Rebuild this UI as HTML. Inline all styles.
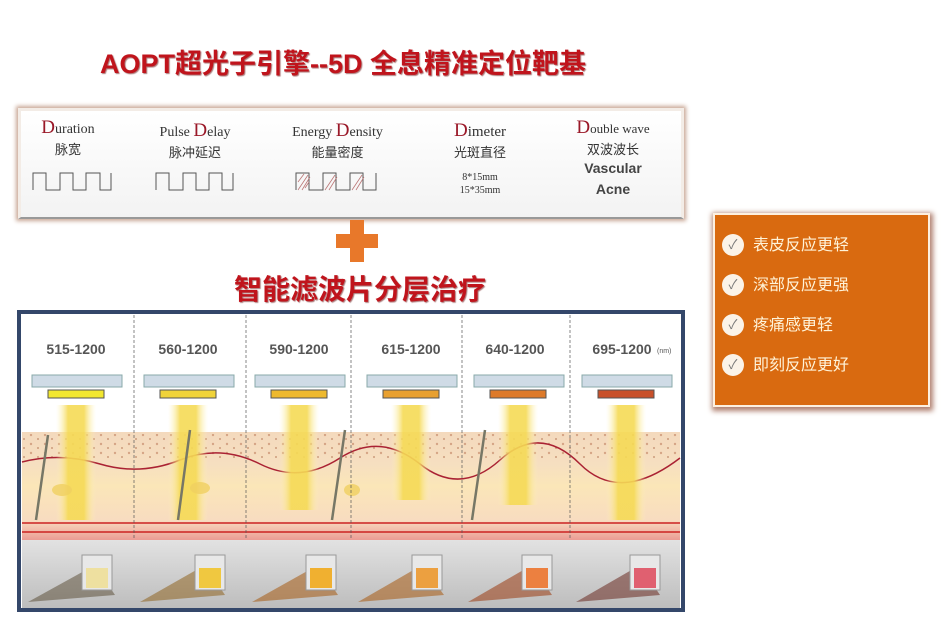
<!DOCTYPE html>
<html><head><meta charset="utf-8"><style>
body{margin:0;width:950px;height:641px;background:#fff;position:relative;overflow:hidden;font-family:"Liberation Sans","Noto Sans CJK SC",sans-serif}
.a{position:absolute}
.t{color:#c0141c;font-weight:bold;text-shadow:1px 1px 1px #a77}
.c{position:absolute;text-align:center;font-family:"Liberation Serif","Noto Serif CJK SC",serif;color:#333}
.c b{color:#9a1828;font-weight:normal;font-size:19px}
.zh{font-family:"Liberation Sans","Noto Sans CJK SC",sans-serif;font-size:13px;color:#333}
.ck{position:absolute;left:722px;width:22px;height:22px;border-radius:50%;background:#fbf3e8;color:#777;font-size:13px;text-align:center;line-height:22px}
.it{position:absolute;left:753px;color:#fff3d8;font-size:16px}
</style></head><body>
<div class="a t" style="left:70px;top:42px;width:546px;text-align:center;font-size:27px;white-space:nowrap">AOPT超光子引擎--5D 全息精准定位靶基</div>
<div class="a" style="left:18px;top:108px;width:660px;height:106px;border:3px solid #f3ece6;box-shadow:0 0 4px 2px #c9a795;background:linear-gradient(#fff,#f3f3f3);border-bottom:2px solid #999"></div>
<div class="c" style="left:28px;top:117px;width:80px;font-size:14px"><b>D</b>uration<div class="zh">脉宽</div></div>
<div class="c" style="left:145px;top:120px;width:100px;font-size:14px">Pulse <b>D</b>elay<div class="zh">脉冲延迟</div></div>
<div class="c" style="left:275px;top:120px;width:125px;font-size:14px">Energy <b>D</b>ensity<div class="zh">能量密度</div></div>
<div class="c" style="left:440px;top:120px;width:80px;font-size:15px"><b>D</b>imeter<div class="zh">光斑直径</div><div style="font-size:10px;margin-top:10px;line-height:13px">8*15mm<br>15*35mm</div></div>
<div class="c" style="left:563px;top:117px;width:100px;font-size:13px"><b>D</b>ouble wave<div class="zh">双波波长</div><div style="font-family:'Liberation Sans';font-weight:bold;font-size:14px;line-height:21px;color:#444">Vascular<br>Acne</div></div>
<svg class="a" style="left:0;top:0" width="700" height="230">
<g fill="none" stroke="#555" stroke-width="1">
<path d="M33 190V173H46V190H60V173H73V190H86V173H100V190H111V173"/>
<path d="M156 190V173H169V190H183V173H196V190H209V173H222V190H233V173"/>
<path d="M296 190V173H309V190H323V173H336V190H350V173H363V190H376V173"/>
</g>
<g stroke="#b77" stroke-width=".8"><path d="M298 190l10-15M302 190l8-13M305 188l4-6M325 190l10-15M329 190l8-13M352 190l10-15M356 190l8-13M298 182l6-8"/></g>
</svg>
<div class="a" style="left:350px;top:220px;width:14px;height:42px;background:#e8782a"></div>
<div class="a" style="left:336px;top:234px;width:42px;height:14px;background:#e8782a"></div>
<div class="a t" style="left:180px;top:268px;width:360px;text-align:center;font-size:28px;white-space:nowrap">智能滤波片分层治疗</div>
<div class="a" style="left:713px;top:213px;width:213px;height:190px;background:#d96a10;border:2px solid #fdf0e0;box-shadow:1px 2px 5px 2px #b08070"></div>
<div class="ck" style="top:234px">✓</div><div class="it" style="top:231px">表皮反应更轻</div>
<div class="ck" style="top:274px">✓</div><div class="it" style="top:271px">深部反应更强</div>
<div class="ck" style="top:314px">✓</div><div class="it" style="top:311px">疼痛感更轻</div>
<div class="ck" style="top:354px">✓</div><div class="it" style="top:351px">即刻反应更好</div>
<svg class="a" style="left:0;top:0" width="950" height="641">
<defs>
<linearGradient id="sk" x1="0" y1="0" x2="0" y2="1"><stop offset="0" stop-color="#f4d9bd"/><stop offset=".3" stop-color="#f6dfc0"/><stop offset=".5" stop-color="#fbe6b8"/><stop offset=".82" stop-color="#f8dcc0"/><stop offset="1" stop-color="#eb9c94"/></linearGradient>
<linearGradient id="ph" x1="0" y1="0" x2="0" y2="1"><stop offset="0" stop-color="#e2e2e2"/><stop offset="1" stop-color="#bdbdbd"/></linearGradient>
<linearGradient id="bm" x1="0" y1="0" x2="1" y2="0"><stop offset="0" stop-color="#fff4c0" stop-opacity="0"/><stop offset=".3" stop-color="#f5da55"/><stop offset=".7" stop-color="#f5da55"/><stop offset="1" stop-color="#fff4c0" stop-opacity="0"/></linearGradient>
<pattern id="dt" width="14" height="9" patternUnits="userSpaceOnUse"><circle cx="3" cy="3" r="1.2" fill="#c08060"/><circle cx="10" cy="7" r="1" fill="#b07050"/></pattern>
</defs>
<rect x="20" y="313" width="662" height="296" fill="#fff"/>
<rect x="22" y="432" width="658" height="108" fill="url(#sk)"/>
<rect x="22" y="434" width="658" height="26" fill="url(#dt)" opacity=".6"/>
<path d="M22 462 Q60 452 100 464 T180 460 T260 464 T340 458 T420 464 T500 460 T580 464 T680 458" stroke="#a23" stroke-width="1.5" fill="none"/>
<path d="M22 523H680M22 532H680" stroke="#c22" stroke-width="1.5"/>
<rect x="22" y="540" width="658" height="68" fill="url(#ph)"/>
<g font-family="Liberation Sans" font-weight="bold" font-size="14" fill="#555" text-anchor="middle">
<text x="76" y="354">515-1200</text><text x="188" y="354">560-1200</text><text x="299" y="354">590-1200</text><text x="411" y="354">615-1200</text><text x="515" y="354">640-1200</text><text x="622" y="354">695-1200</text></g>
<text x="657" y="353" font-family="Liberation Sans" font-size="7" fill="#555">(nm)</text>
<g id="cols">
<g transform="translate(76,0)"><rect x="-44" y="375" width="90" height="12" fill="#cfdbe6" stroke="#8aa"/><rect x="-28" y="390" width="56" height="8" fill="#f2e730" stroke="#555"/><rect x="-20" y="405" width="40" height="115" fill="url(#bm)" opacity=".9"/></g>
<g transform="translate(188,0)"><rect x="-44" y="375" width="90" height="12" fill="#cfdbe6" stroke="#8aa"/><rect x="-28" y="390" width="56" height="8" fill="#f0d33a" stroke="#555"/><rect x="-20" y="405" width="40" height="115" fill="url(#bm)" opacity=".9"/></g>
<g transform="translate(299,0)"><rect x="-44" y="375" width="90" height="12" fill="#cfdbe6" stroke="#8aa"/><rect x="-28" y="390" width="56" height="8" fill="#eeb92e" stroke="#555"/><rect x="-20" y="405" width="40" height="105" fill="url(#bm)" opacity=".9"/></g>
<g transform="translate(411,0)"><rect x="-44" y="375" width="90" height="12" fill="#cfdbe6" stroke="#8aa"/><rect x="-28" y="390" width="56" height="8" fill="#e8a030" stroke="#555"/><rect x="-20" y="405" width="40" height="95" fill="url(#bm)" opacity=".9"/></g>
<g transform="translate(518,0)"><rect x="-44" y="375" width="90" height="12" fill="#cfdbe6" stroke="#8aa"/><rect x="-28" y="390" width="56" height="8" fill="#dd7a2a" stroke="#555"/><rect x="-20" y="405" width="40" height="100" fill="url(#bm)" opacity=".9"/></g>
<g transform="translate(626,0)"><rect x="-44" y="375" width="90" height="12" fill="#cfdbe6" stroke="#8aa"/><rect x="-28" y="390" width="56" height="8" fill="#c8502a" stroke="#555"/><rect x="-20" y="405" width="40" height="115" fill="url(#bm)" opacity=".9"/></g>
</g>
<g fill="none" stroke-width="2.5"><path d="M48 435L36 520M190 430L178 520M345 430L332 520M485 430L472 520" stroke="#776"/></g>
<g fill="#f0d060" opacity=".8"><ellipse cx="62" cy="490" rx="10" ry="6"/><ellipse cx="200" cy="488" rx="10" ry="6"/><ellipse cx="352" cy="490" rx="8" ry="6"/></g>
<g>
<path d="M28 602L95 565L115 595Z" fill="#4a3a20" opacity=".45"/><path d="M140 602L205 565L225 595Z" fill="#8a5a10" opacity=".5"/><path d="M252 602L318 565L338 595Z" fill="#a55a10" opacity=".55"/><path d="M358 602L422 565L444 595Z" fill="#a85a10" opacity=".55"/><path d="M468 602L532 565L552 595Z" fill="#9a3a10" opacity=".55"/><path d="M576 602L640 565L660 595Z" fill="#6a2a20" opacity=".55"/>
<g fill="#e8e8e8" stroke="#999"><rect x="82" y="555" width="30" height="35"/><rect x="195" y="555" width="30" height="35"/><rect x="306" y="555" width="30" height="35"/><rect x="412" y="555" width="30" height="35"/><rect x="522" y="555" width="30" height="35"/><rect x="630" y="555" width="30" height="35"/></g>
<g><rect x="86" y="568" width="22" height="20" fill="#eee0a0"/><rect x="199" y="568" width="22" height="20" fill="#f0c840"/><rect x="310" y="568" width="22" height="20" fill="#f0b030"/><rect x="416" y="568" width="22" height="20" fill="#eca040"/><rect x="526" y="568" width="22" height="20" fill="#ec8040"/><rect x="634" y="568" width="22" height="20" fill="#e06070"/></g>
</g>
<g stroke="#555" stroke-dasharray="3,2" stroke-width=".7"><path d="M134 315V540M246 315V540M351 315V540M462 315V540M570 315V540"/></g>
<rect x="19" y="312" width="664" height="298" fill="none" stroke="#34476a" stroke-width="4"/>
</svg>
</body></html>
